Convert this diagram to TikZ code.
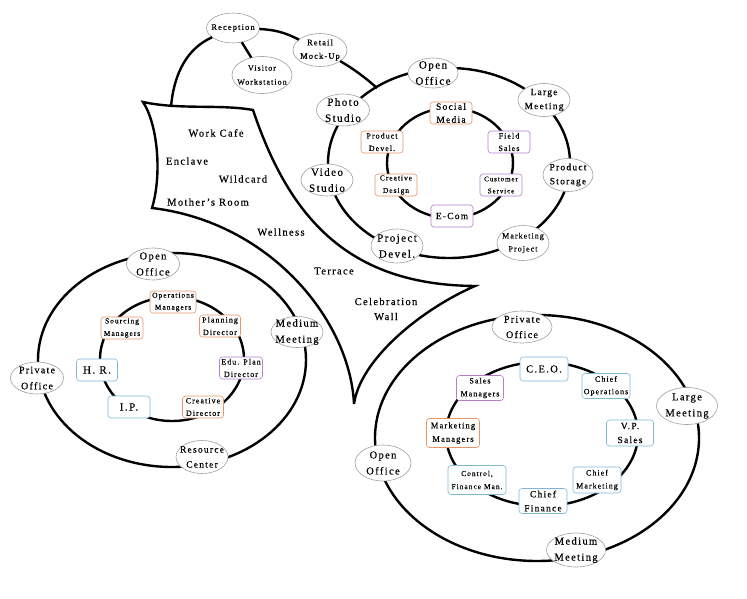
\documentclass[tikz,border=0pt]{standalone}
\usepackage{fontspec}
\setmainfont{Liberation Serif}[LetterSpace=13, FakeBold=0.4]
\usetikzlibrary{shapes.geometric}
\definecolor{orb}{RGB}{228,150,100}
\definecolor{pub}{RGB}{180,125,205}
\definecolor{blb}{RGB}{125,185,215}
\definecolor{rmb}{RGB}{160,160,160}
\newcommand\fsz[2]{\fontsize{#1}{#2}\selectfont}
\begin{document}
\begin{tikzpicture}[x=1pt,y=-1pt,
  ring/.style={draw, line width=2.4pt, ellipse, inner sep=0pt, outer sep=0pt},
  wire/.style={draw, line width=2.4pt},
  room/.style={ellipse, draw=rmb, line width=0.6pt, fill=white, inner sep=-6pt, outer sep=0pt, align=center},
  desk/.style={rectangle, rounded corners=3pt, line width=0.6pt, fill=white, inner sep=0pt, outer sep=0pt, align=center},
  zone/.style={inner sep=0pt, font=\fsz{10.5}{14}}]
\useasboundingbox (0,0) rectangle (747,599);

% central free-form zone
\draw[wire, line join=miter, miter limit=5]
  (143,102) .. controls (180,110) and (220,104) .. (253,110)
  .. controls (290,220) and (350,285) .. (475,286)
  .. controls (420,310) and (360,360) .. (354,404)
  .. controls (350,320) and (270,222) .. (152,208)
  .. controls (162,175) and (158,125) .. (143,102) -- cycle;
\coordinate (arcstart) at (171,107);
\coordinate (retailend) at (377,88);

\node[zone] (workcafe) at (216,133) {Work Cafe};
\node[zone] (enclave) at (187,161) {Enclave};
\node[zone] (wildcard) at (243,179) {Wildcard};
\node[zone] (mothers) at (208,202) {Mother’s Room};
\node[zone] (wellness) at (281,232) {Wellness};
\node[zone] (terrace) at (334,271) {Terrace};
\node[zone, align=center, font=\fsz{10.5}{15}] (celebration) at (386,309) {Celebration\\Wall};

% rings
\node[ring, minimum width=242pt, minimum height=190pt] (trouter) at (449,163) {};
\node[ring, minimum width=126pt, minimum height=110pt] (trinner) at (450,163) {};
\node[ring, minimum width=268pt, minimum height=214pt] (lfouter) at (172,360) {};
\node[ring, minimum width=144pt, minimum height=124pt] (lfinner) at (172,359) {};
\node[ring, minimum width=324pt, minimum height=246pt] (brouter) at (537,438) {};
\node[ring, minimum width=192pt, minimum height=144pt] (brinner) at (542,434) {};

% top arc rooms
\node[room, font=\fsz{8.5}{12}, minimum width=53pt, minimum height=30pt] (reception) at (233,28) {Reception};
\node[room, font=\fsz{8}{14}, minimum width=60pt, minimum height=37pt] (visitor) at (262,75) {Visitor\\Workstation};
\node[room, font=\fsz{8.5}{13.5}, minimum width=54pt, minimum height=33pt] (retail) at (320,50) {Retail\\Mock-Up};

\draw[wire] (arcstart) .. controls (174,72) and (188,48) .. (reception);
\draw[wire] (reception) to[bend left=12] (retail);
\draw[wire] (retail) to[bend left=5] (retailend);
\draw[wire] (reception) -- (visitor);

% top-right cluster
\node[room, font=\fsz{11}{16}, minimum width=50pt, minimum height=30pt] (tropen) at (433,73) {Open\\Office};
\node[room, font=\fsz{9.5}{14}, minimum width=52pt, minimum height=33pt] (trlarge) at (544,100) {Large\\Meeting};
\node[room, font=\fsz{9.5}{14}, minimum width=50pt, minimum height=33pt] (trstorage) at (568,175) {Product\\Storage};
\node[room, font=\fsz{8}{13}, minimum width=52pt, minimum height=35pt] (trmarket) at (523,243) {Marketing\\Project};
\node[room, font=\fsz{11}{16}, minimum width=52pt, minimum height=34pt] (trproject) at (397,246) {Project\\Devel.};
\node[room, font=\fsz{11}{16}, minimum width=52pt, minimum height=32pt] (trvideo) at (327,180) {Video\\Studio};
\node[room, font=\fsz{11}{16}, minimum width=53pt, minimum height=32pt] (trphoto) at (343,110) {Photo\\Studio};

\node[desk, draw=orb, font=\fsz{9.5}{13}, minimum width=42pt, minimum height=22pt] (social) at (451,113) {Social\\Media};
\node[desk, draw=pub, font=\fsz{8}{12.5}, minimum width=42pt, minimum height=22pt] (field) at (509,142) {Field\\Sales};
\node[desk, draw=pub, font=\fsz{7}{12}, minimum width=42pt, minimum height=22pt] (customer) at (501,185) {Customer\\Service};
\node[desk, draw=pub, font=\fsz{9.5}{12}, minimum width=42pt, minimum height=22pt] (ecom) at (452,216) {E-Com};
\node[desk, draw=orb, font=\fsz{7.5}{12.5}, minimum width=42pt, minimum height=22pt] (creative) at (396,185) {Creative\\Design};
\node[desk, draw=orb, font=\fsz{8}{12.5}, minimum width=42pt, minimum height=22pt] (proddev) at (382,142) {Product\\Devel.};

% left cluster
\node[room, font=\fsz{10.5}{16}, minimum width=53pt, minimum height=32pt] (lfopen) at (153,264) {Open\\Office};
\node[room, font=\fsz{10.5}{16}, minimum width=52pt, minimum height=31pt] (lfmedium) at (297,332) {Medium\\Meeting};
\node[room, font=\fsz{9.5}{15}, minimum width=52pt, minimum height=33pt] (lfresource) at (202,457) {Resource\\Center};
\node[room, font=\fsz{10}{16}, minimum width=53pt, minimum height=32pt] (lfprivate) at (37,378) {Private\\Office};

\node[desk, draw=orb, font=\fsz{7.5}{12}, minimum width=46pt, minimum height=22pt] (opsmgr) at (173,302) {Operations\\Managers};
\node[desk, draw=orb, font=\fsz{8}{12.5}, minimum width=41pt, minimum height=22pt] (planning) at (220,326) {Planning\\Director};
\node[desk, draw=pub, font=\fsz{8}{12.5}, minimum width=43pt, minimum height=22pt] (eduplan) at (241,368) {Edu. Plan\\Director};
\node[desk, draw=orb, font=\fsz{8}{12.5}, minimum width=41pt, minimum height=22pt] (creadir) at (203,407) {Creative\\Director};
\node[desk, draw=blb, font=\fsz{11}{12}, minimum width=42pt, minimum height=22pt] (ip) at (129,407) {I.P.};
\node[desk, draw=blb, font=\fsz{11}{12}, minimum width=41pt, minimum height=22pt] (hr) at (97,370) {H. R.};
\node[desk, draw=orb, font=\fsz{7.5}{12.5}, minimum width=42pt, minimum height=22pt] (sourcing) at (122,328) {Sourcing\\Managers};

% bottom-right cluster
\node[room, font=\fsz{10}{15.5}, minimum width=60pt, minimum height=32pt] (brprivate) at (522,327) {Private\\Office};
\node[room, font=\fsz{10.5}{16}, minimum width=61pt, minimum height=37pt] (brlarge) at (687,406) {Large\\Meeting};
\node[room, font=\fsz{10.5}{16}, minimum width=59pt, minimum height=34pt] (brmedium) at (576,550) {Medium\\Meeting};
\node[room, font=\fsz{10.5}{16}, minimum width=56pt, minimum height=36pt] (bropen) at (383,463) {Open\\Office};

\node[desk, draw=blb, font=\fsz{10.5}{12}, minimum width=48pt, minimum height=24pt] (ceo) at (544,369) {C.E.O.};
\node[desk, draw=blb, font=\fsz{8}{12.5}, minimum width=48pt, minimum height=25pt] (chiefops) at (606,386) {Chief\\Operations};
\node[desk, draw=blb, font=\fsz{9.5}{14}, minimum width=47pt, minimum height=26pt] (vpsales) at (630,433) {V.P.\\Sales};
\node[desk, draw=blb, font=\fsz{8}{13}, minimum width=48pt, minimum height=26pt] (chiefmkt) at (597,480) {Chief\\Marketing};
\node[desk, draw=blb, font=\fsz{9.5}{14}, minimum width=48pt, minimum height=25pt] (chieffin) at (543,501) {Chief\\Finance};
\node[desk, draw=blb, font=\fsz{7.5}{13}, minimum width=58pt, minimum height=29pt] (control) at (477,480) {Control,\\Finance Man.};
\node[desk, draw=orb, font=\fsz{8.5}{13.5}, minimum width=53pt, minimum height=29pt] (mktmgr) at (453,433) {Marketing\\Managers};
\node[desk, draw=pub, font=\fsz{8}{13}, minimum width=47pt, minimum height=25pt] (salesmgr) at (480,388) {Sales\\Managers};
\end{tikzpicture}
\end{document}
